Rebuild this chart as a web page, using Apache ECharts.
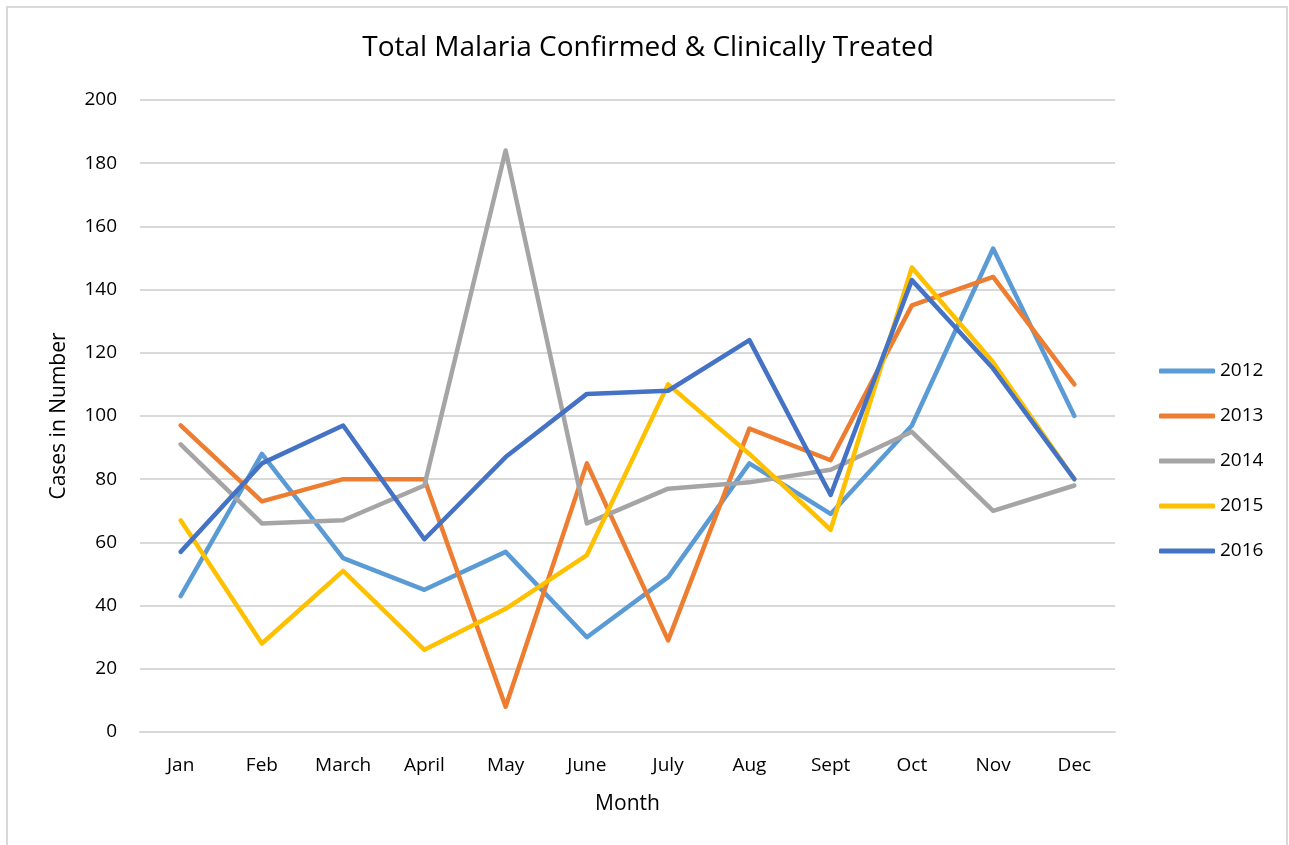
<!DOCTYPE html>
<html>
<head>
<meta charset="utf-8">
<script src="https://cdn.jsdelivr.net/npm/echarts@6/dist/echarts.min.js"></script>
<style>
  html, body { margin: 0; padding: 0; background: #fff; }
  #chart { width: 1289px; height: 845px; }
</style>
</head>
<body>
<div id="chart"></div>
<script>
// data
const months = ['Jan', 'Feb', 'March', 'April', 'May', 'June', 'July', 'Aug', 'Sept', 'Oct', 'Nov', 'Dec'];
const years = ['2012', '2013', '2014', '2015', '2016'];
const cases2012 = [43, 88, 55, 45, 57, 30, 49, 85, 69, 97, 153, 100];
const cases2013 = [97, 73, 80, 80, 8, 85, 29, 96, 86, 135, 144, 110];
const cases2014 = [91, 66, 67, 78, 184, 66, 77, 79, 83, 95, 70, 78];
const cases2015 = [67, 28, 51, 26, 39, 56, 110, 88, 64, 147, 117, 80];
const cases2016 = [57, 85, 97, 61, 87, 107, 108, 124, 75, 143, 115, 80];
const colors = ['#5B9BD5', '#ED7D31', '#A5A5A5', '#FFC000', '#4472C4'];

const allCases = [cases2012, cases2013, cases2014, cases2015, cases2016];
const font = '"Open Sans", "Noto Sans", sans-serif';

const chart = echarts.init(document.getElementById('chart'));

const option = {
    animation: false,
    backgroundColor: '#ffffff',
    color: colors,
    textStyle: { fontFamily: font },
    title: {
        text: 'Total Malaria Confirmed & Clinically Treated',
        left: 643,
        textAlign: 'center',
        top: 29,
        textStyle: {
            fontFamily: font,
            fontSize: 28,
            fontWeight: 'normal',
            color: '#000000'
        }
    },
    legend: {
        orient: 'vertical',
        left: 1154,
        top: 354,
        itemWidth: 56,
        itemHeight: 5,
        itemGap: 21,
        icon: 'roundRect',
        data: years,
        textStyle: {
            fontFamily: font,
            fontSize: 19,
            color: '#000000',
            lineHeight: 24
        }
    },
    grid: {
        left: 140,
        right: 174,
        top: 100,
        bottom: 113
    },
    xAxis: {
        type: 'category',
        data: months,
        boundaryGap: true,
        name: 'Month',
        nameLocation: 'middle',
        nameGap: 62,
        nameTextStyle: { fontFamily: font, fontSize: 21, color: '#000000' },
        axisLine: { show: true, lineStyle: { color: '#D9D9D9', width: 2 } },
        axisTick: { show: false },
        axisLabel: { fontFamily: font, fontSize: 19, color: '#000000', margin: 24 }
    },
    yAxis: {
        type: 'value',
        min: 0,
        max: 200,
        interval: 20,
        name: 'Cases in Number',
        nameLocation: 'middle',
        nameGap: 70,
        nameRotate: 90,
        nameTextStyle: { fontFamily: font, fontSize: 21, color: '#000000' },
        axisLine: { show: false },
        axisTick: { show: false },
        axisLabel: { fontFamily: font, fontSize: 19, color: '#000000', margin: 23 },
        splitLine: { lineStyle: { color: '#D9D9D9', width: 2 } }
    },
    graphic: [
        {
            type: 'polyline',
            shape: { points: [[7, 845], [7, 7], [1287, 7], [1287, 845]] },
            style: { stroke: '#D9D9D9', lineWidth: 2, fill: null },
            silent: true
        }
    ],
    series: years.map((y, i) => ({
        name: y,
        type: 'line',
        data: allCases[i],
        showSymbol: false,
        symbol: 'none',
        lineStyle: { width: 4.5, cap: 'round', join: 'round', color: colors[i] },
        itemStyle: { color: colors[i] }
    }))
};

chart.setOption(option);
</script>
</body>
</html>
